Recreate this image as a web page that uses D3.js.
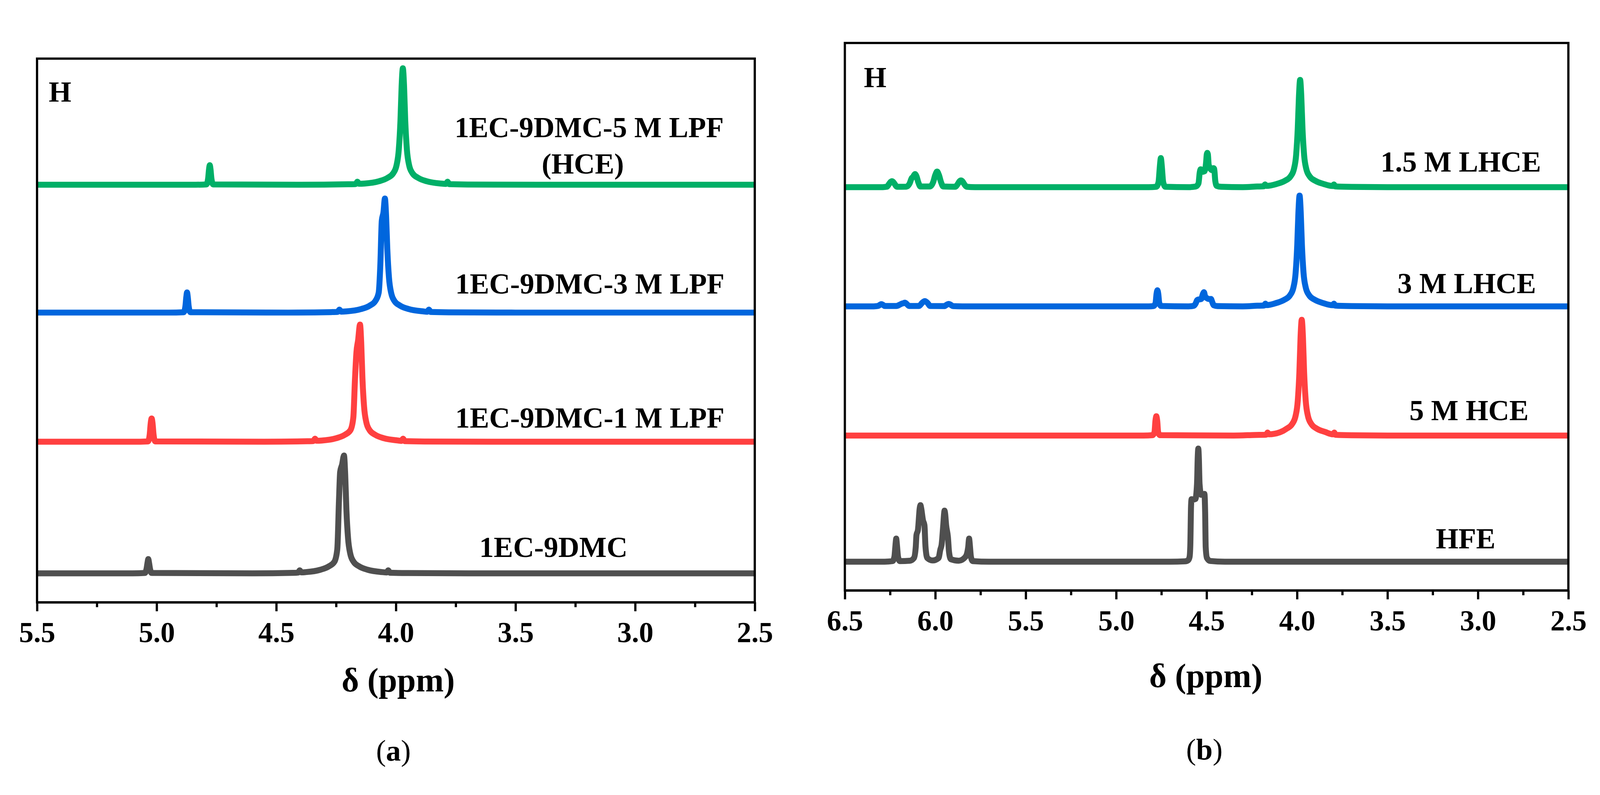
<!DOCTYPE html>
<meta charset="utf-8">

<style type="text/css">
	html, body {
		margin: 0;
		padding: 0;
		background: #fff;
		overflow: hidden;
	}
	svg {
		display: block;
		font-family: "Liberation Serif", "Times New Roman", serif;
	}
	.trace {
		fill: none;
		stroke-width: 16;
		stroke-linejoin: round;
	}
	.frame {
		fill: none;
		stroke: #000;
		stroke-width: 6;
	}
	.axis path, .axis line {
		stroke: #000;
		stroke-width: 6;
	}
	.axis text {
		font-size: 78px;
		font-weight: bold;
		fill: #000;
	}
	.label {
		font-size: 78px;
		font-weight: bold;
		text-anchor: middle;
	}
</style>

<body>

</body>

<script src="https://d3js.org/d3.v7.min.js"></script>

<script>

	// ---------- data: spectra as [ppm, intensity] points ----------

	// panel (a)
	var a_gray = [  // 1EC-9DMC
		[5.50,0],[5.10,0],[5.049,0.3],[5.042,4],[5.038,9],[5.035,11.8],[5.032,9],[5.028,4],[5.021,0.3],
		[4.60,0],[4.43,0.4],[4.409,0.6],[4.402,2.5],[4.395,0.8],
		[4.377,1.0],[4.317,2.9],[4.280,5.8],[4.257,9.6],[4.245,20],[4.238,60],[4.233,84],[4.225,90],
		[4.217,97.5],[4.212,82],[4.207,53],[4.200,29],[4.191,16.4],[4.177,9.6],[4.154,5.8],[4.117,2.9],
		[4.057,1.0],[4.039,0.7],[4.032,2.5],[4.025,0.5],[3.95,0.2],[3.70,0],[2.50,0]
	];
	var a_red = [  // 1EC-9DMC-1 M LPF
		[5.50,0],[5.10,0],[5.036,0.3],[5.029,6],[5.025,15],[5.021,19.3],[5.017,15],[5.013,6],[5.006,0.3],
		[4.55,0],[4.37,0.4],[4.345,0.6],[4.338,2.5],[4.331,0.8],
		[4.310,1.0],[4.250,2.9],[4.213,5.8],[4.190,9.6],[4.178,20],[4.171,52],[4.165,74],[4.158,84],
		[4.150,97],[4.145,82],[4.140,53],[4.133,29],[4.124,16.4],[4.110,9.6],[4.087,5.8],[4.050,2.9],
		[3.990,1.0],[3.977,0.7],[3.970,2.5],[3.963,0.5],[3.88,0.2],[3.60,0],[2.50,0]
	];
	var a_blue = [  // 1EC-9DMC-3 M LPF
		[5.50,0],[4.95,0],[4.887,0.3],[4.880,5],[4.876,13],[4.873,16.7],[4.870,13],[4.866,5],[4.859,0.3],
		[4.45,0],[4.27,0.4],[4.243,0.6],[4.236,2.5],[4.229,0.8],
		[4.206,1.0],[4.146,2.9],[4.109,5.8],[4.086,9.6],[4.072,16.4],[4.065,40],[4.059,76],[4.052,83],
		[4.046,94.4],[4.041,80],[4.036,53],[4.029,29],[4.020,16.4],[4.006,9.6],[3.983,5.8],[3.946,2.9],
		[3.886,1.0],[3.869,0.7],[3.862,2.5],[3.855,0.5],[3.78,0.2],[3.50,0],[2.50,0]
	];
	var a_green = [  // 1EC-9DMC-5 M LPF (HCE)
		[5.50,0],[4.85,0],[4.792,0.3],[4.785,5],[4.781,13],[4.778,16.2],[4.775,13],[4.771,5],[4.764,0.3],
		[4.40,0],[4.20,0.4],[4.168,0.6],[4.161,2.5],[4.154,0.8],
		[4.131,1.0],[4.071,2.9],[4.034,5.8],[4.011,9.6],[3.997,16.4],[3.988,29],[3.981,53],[3.976,82],
		[3.971,96.4],[3.966,82],[3.961,53],[3.954,29],[3.945,16.4],[3.931,9.6],[3.908,5.8],[3.871,2.9],
		[3.811,1.0],[3.791,0.7],[3.784,2.5],[3.777,0.5],[3.70,0.2],[3.40,0],[2.50,0]
	];

	// panel (b)
	var b_gray = [  // HFE
		[6.50,0],[6.28,0],[6.236,0.5],[6.226,4],[6.221,12],[6.218,17],[6.216,19],[6.214,17],[6.211,12],[6.206,4],[6.196,0.5],
		[6.140,0.8],[6.118,3],[6.108,12],[6.104,22],[6.096,26],[6.086,44],[6.082,46.5],[6.078,44],[6.068,34],[6.060,30],[6.054,12],[6.044,3],
		[6.015,1.0],[5.982,3],[5.972,10],[5.965,14],[5.956,30],[5.951,40],[5.949,42],[5.946,40],[5.940,30],[5.930,20],[5.924,8],[5.914,2],
		[5.870,0.8],[5.833,4],[5.818,12],[5.815,17],[5.813,19],[5.811,17],[5.808,12],[5.803,4],[5.793,0.5],
		[5.70,0],[4.70,0],[4.62,0.3],[4.602,1.2],[4.594,4],[4.590,14],[4.586,46],[4.583,51.4],[4.575,51],[4.562,51.5],
		[4.553,64],[4.549,86],[4.546,93],[4.543,86],[4.539,64],[4.530,55],[4.518,55],[4.512,55.7],
		[4.508,40],[4.505,12],[4.498,3],[4.480,0.6],[4.40,0],[2.50,0]
	];
	var b_red = [  // 5 M HCE
		[6.50,0],[4.85,0],[4.798,0.3],[4.788,3],[4.783,12],[4.780,15],[4.778,15.9],[4.776,15],[4.773,12],[4.768,3],[4.758,0.3],
		[4.35,0],[4.23,0.5],[4.170,0.7],[4.163,2.5],[4.156,1.0],
		[4.094,2.7],[4.057,5.7],[4.027,9.5],[4.008,16.2],[3.996,28.6],[3.987,52.4],[3.9806,80.9],
		[3.974,95.2],[3.9674,80.9],[3.961,52.4],[3.952,28.6],[3.940,16.2],[3.921,9.5],[3.891,5.7],[3.844,2.9],
		[3.801,1.0],[3.794,2.5],[3.787,0.6],[3.70,0.2],[3.50,0],[2.50,0]
	];
	var b_blue = [  // 3 M LHCE
		[6.50,0],[6.34,0],[6.316,0.3],[6.306,1.3],[6.298,1.8],[6.290,1.3],[6.280,0.3],
		[6.215,0.3],[6.195,1.5],[6.185,2.2],[6.176,2.6],[6.168,3.0],[6.158,2.0],[6.145,0.3],
		[6.090,0.3],[6.072,3.0],[6.058,4.3],[6.044,3.0],[6.028,0.3],
		[5.950,0.2],[5.936,1.4],[5.926,2.0],[5.916,1.4],[5.902,0.2],
		[5.85,0],[4.82,0],[4.792,0.3],[4.782,3],[4.777,10],[4.774,12.5],[4.772,13.2],[4.770,12.5],[4.767,10],[4.762,3],[4.752,0.3],
		[4.60,0],[4.572,0.4],[4.560,2.5],[4.553,5.0],[4.548,5.5],[4.530,6],[4.521,10],[4.517,11.2],[4.515,11.6],[4.513,11.2],
		[4.508,8],[4.484,6],[4.476,6.1],[4.470,4],[4.460,0.8],[4.44,0.2],
		[4.30,0],[4.22,0.5],[4.182,0.7],[4.175,2.2],[4.168,1.0],
		[4.116,2.7],[4.069,5.5],[4.039,9.1],[4.020,15.5],[4.008,27.3],[3.999,50.1],[3.9924,77.4],
		[3.986,91.1],[3.9796,77.4],[3.973,50.1],[3.964,27.3],[3.952,15.5],[3.933,9.1],[3.903,5.5],[3.856,2.7],
		[3.803,0.9],[3.796,2.2],[3.789,0.6],[3.70,0.2],[3.50,0],[2.50,0]
	];
	var b_green = [  // 1.5 M LHCE
		[6.50,0],[6.29,0],[6.268,0.3],[6.256,2.5],[6.247,4.3],[6.240,4.9],[6.233,4.3],[6.224,2.5],[6.212,0.3],
		[6.160,0.4],[6.142,3],[6.130,7.5],[6.124,8.2],[6.116,10.2],[6.112,10.7],[6.104,9],[6.094,4],[6.082,0.5],
		[6.030,0.5],[6.012,4],[6.000,10],[5.990,12.8],[5.980,10],[5.968,4],[5.956,0.5],
		[5.890,0.3],[5.876,2.5],[5.866,4.8],[5.858,5.5],[5.850,4.8],[5.840,2.5],[5.826,0.3],
		[5.78,0],[4.82,0],[4.778,0.3],[4.766,4],[4.759,16],[4.756,21],[4.753,23.9],[4.750,21],[4.747,16],[4.740,4],[4.728,0.3],
		[4.60,0],[4.56,0.5],[4.545,3],[4.538,12],[4.533,14.7],[4.525,12.5],[4.512,13],[4.503,20],[4.499,27],
		[4.496,28.2],[4.493,27],[4.488,18],[4.470,14],[4.462,15.6],[4.458,15],[4.452,5],[4.444,1],[4.42,0.3],
		[4.30,0],[4.22,0.5],[4.184,0.7],[4.177,2.2],[4.170,1.0],
		[4.113,2.6],[4.066,5.3],[4.036,8.8],[4.017,15],[4.005,26.5],[3.996,48.5],[3.9894,75],
		[3.983,88.2],[3.9766,75],[3.970,48.5],[3.961,26.5],[3.949,15],[3.930,8.8],[3.900,5.3],[3.853,2.6],
		[3.803,0.9],[3.796,2.2],[3.789,0.6],[3.70,0.2],[3.50,0],[2.50,0]
	];

	// stacking offsets (same intensity units), bottom to top
	var a_offsets = [24.0, 132.9, 239.8, 345.6];
	var b_offsets = [23.6, 127.3, 233.5, 331.5];

	var a_labels = ["1EC-9DMC", "1EC-9DMC-1 M LPF", "1EC-9DMC-3 M LPF", "1EC-9DMC-5 M LPF"];
	var b_labels = ["HFE", "5 M HCE", "3 M LHCE", "1.5 M LHCE"];

	var a_ticks = [5.5, 5.0, 4.5, 4.0, 3.5, 3.0, 2.5];
	var b_ticks = [6.5, 6.0, 5.5, 5.0, 4.5, 4.0, 3.5, 3.0, 2.5];
	var a_minor = [5.25, 4.75, 4.25, 3.75, 3.25, 2.75];
	var b_minor = [6.25, 5.75, 5.25, 4.75, 4.25, 3.75, 3.25, 2.75];

	var colors = ["#4f4f4f", "#ff4040", "#0066dd", "#00af67"];

	// ---------- layout ----------

	var W = 4299, H = 2034;

	var panels = [
		{
			spectra: [a_gray, a_red, a_blue, a_green], offsets: a_offsets, labels: a_labels,
			ticks: a_ticks, minor: a_minor, domain: [5.5, 2.5],
			left: 99.5, right: 2028, top: 107, bottom: 1567,
			labelPos: [[1487, 1445], [1585, 1098], [1585, 738], [1583, 318]],
			extra: {text: "(HCE)", x: 1566, y: 416},
			h: [131, 222], title: [1070, 1806], caption: [1057, 1992], letter: "a"
		},
		{
			spectra: [b_gray, b_red, b_blue, b_green], offsets: b_offsets, labels: b_labels,
			ticks: b_ticks, minor: b_minor, domain: [6.5, 2.5],
			left: 2270, right: 4214, top: 65, bottom: 1535,
			labelPos: [[3938, 1422], [3947, 1078], [3941, 737], [3925, 410]],
			extra: null,
			h: [2321, 184], title: [3240, 1795], caption: [3236, 1989], letter: "b"
		}
	];

	// drawn in a 4299x2034 coordinate space, scaled to whatever the viewport is
	var svg = d3.select("body").append("svg")
		.attr("viewBox", "0 0 " + W + " " + H)
		.attr("preserveAspectRatio", "xMidYMid meet")
		.style("width", "100vw")
		.style("height", "100vh");

	svg.append("rect")
		.attr("width", W)
		.attr("height", H)
		.attr("fill", "#fff");

	panels.forEach(function(p) {

		var xScale = d3.scaleLinear()
			.domain(p.domain)
			.range([p.left, p.right]);

		var yScale = d3.scaleLinear()
			.domain([0, 450])
			.range([p.bottom, p.top]);

		var g = svg.append("g");

		// spectra
		p.spectra.forEach(function(s, i) {
			var line = d3.line()
				.x(function(d) { return xScale(d[0]); })
				.y(function(d) { return yScale(d[1] + p.offsets[i]); })
				.curve(d3.curveMonotoneX);

			g.append("path")
				.datum(s)
				.attr("class", "trace")
				.attr("stroke", colors[i])
				.attr("d", line);
		});

		// frame
		g.append("rect")
			.attr("class", "frame")
			.attr("x", p.left)
			.attr("y", p.top)
			.attr("width", p.right - p.left)
			.attr("height", p.bottom - p.top);

		// x axis, major then minor ticks
		var x_axis = d3.axisBottom(xScale)
			.tickValues(p.ticks)
			.tickFormat(d3.format(".1f"))
			.tickSize(24)
			.tickSizeOuter(0)
			.tickPadding(28);

		var gx = g.append("g")
			.attr("class", "axis")
			.attr("transform", "translate(0," + p.bottom + ")")
			.call(x_axis);
		gx.select(".domain").attr("stroke-width", 7);
		gx.selectAll("text").attr("font-family", "Liberation Serif, Times New Roman, serif");

		var minor_axis = d3.axisBottom(xScale)
			.tickValues(p.minor)
			.tickFormat("")
			.tickSize(13)
			.tickSizeOuter(0);

		g.append("g")
			.attr("class", "axis")
			.attr("transform", "translate(0," + p.bottom + ")")
			.call(minor_axis)
			.select(".domain").remove();

		// labels
		p.labels.forEach(function(t, i) {
			g.append("text")
				.attr("class", "label")
				.attr("x", p.labelPos[i][0])
				.attr("y", p.labelPos[i][1])
				.text(t);
		});
		if (p.extra) {
			g.append("text")
				.attr("class", "label")
				.attr("x", p.extra.x)
				.attr("y", p.extra.y)
				.text(p.extra.text);
		}

		g.append("text")
			.attr("x", p.h[0])
			.attr("y", p.h[1])
			.attr("font-size", 78)
			.attr("font-weight", "bold")
			.text("H");

		g.append("text")
			.attr("x", p.title[0])
			.attr("y", p.title[1])
			.attr("text-anchor", "middle")
			.attr("font-size", 90)
			.attr("font-weight", "bold")
			.text("δ (ppm)");

		var cap = g.append("text")
			.attr("x", p.caption[0])
			.attr("y", p.caption[1])
			.attr("text-anchor", "middle")
			.attr("font-size", 80);
		cap.append("tspan").text("(");
		cap.append("tspan").attr("font-weight", "bold").text(p.letter);
		cap.append("tspan").text(")");
	});

</script>
